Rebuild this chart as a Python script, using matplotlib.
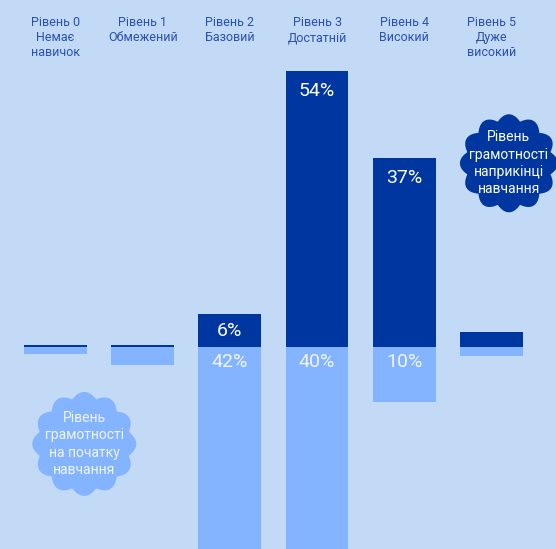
import numpy as np
import matplotlib.pyplot as plt
from matplotlib.patches import Polygon
from matplotlib.transforms import ScaledTranslation

# Levels of literacy, share at the end (up) and at the start (down)
levels = ["Рівень 0\nНемає\nнавичок", "Рівень 1\nОбмежений", "Рівень 2\nБазовий",
          "Рівень 3\nДостатній", "Рівень 4\nВисокий", "Рівень 5\nДуже\nвисокий"]
end_values = [0.4, 0.4, 6.4, 54, 37, 2.9]
start_values = [1.3, 3.5, 42, 40, 10.7, 1.8]
end_labels = ["", "", "6%", "54%", "37%", ""]
start_labels = ["", "", "42%", "40%", "10%", ""]

dark = "#0036a0"
light = "#84b4ff"
bg = "#c2daf5"

plt.rcParams['font.family'] = ['Roboto', 'DejaVu Sans']

fig = plt.figure(figsize=(5.56, 5.49), dpi=100, facecolor=bg)
ax = fig.add_axes([0, 0, 1, 1])
ax.set_facecolor(bg)

x = np.arange(len(levels))
ax.bar(x, end_values, width=0.72, color=dark, linewidth=0)
ax.bar(x, [-v for v in start_values], width=0.72, color=light, linewidth=0)

ax.set_xlim(-0.636, 5.74)
ax.set_ylim(-39.6, 68.0)
ax.axis("off")

# percent labels inside bars
for i in x:
    if end_labels[i]:
        y = end_values[i] / 2 if end_values[i] < 10 else end_values[i] - 3.9
        ax.text(i, y, end_labels[i], color="white", fontsize=14,
                ha="center", va="center")
    if start_labels[i]:
        ax.text(i, -3.0, start_labels[i], color="#f0f5ff", fontsize=14,
                ha="center", va="center")

# column headers
for i, lab in enumerate(levels):
    ax.text(i, 0.97, lab, transform=ax.get_xaxis_transform(), color="#2a50b3",
            fontsize=9, ha="center", va="top", linespacing=1.2)


def badge(xc, yc, r_px, color, text, tcolor):
    t = np.linspace(0, 2 * np.pi, 600)
    r = r_px - 3 + 6 * np.abs(np.cos(6 * t))
    verts = np.column_stack([r * np.cos(t), r * np.sin(t)]) / fig.dpi
    tr = fig.dpi_scale_trans + ScaledTranslation(xc, yc, ax.transData)
    ax.add_patch(Polygon(verts, closed=True, facecolor=color, edgecolor="none",
                         transform=tr, zorder=5))
    ax.text(xc, yc, text, color=tcolor, fontsize=10, ha="center", va="center",
            linespacing=1.3, zorder=6)


badge(5.2, 36.0, 46, dark, "Рівень\nграмотності\nнаприкінці\nнавчання", "white")
badge(0.33, -19.0, 49, light, "Рівень\nграмотності\nна початку\nнавчання", "#f0f5ff")

fig.savefig("out.png", dpi=100, facecolor=bg)
